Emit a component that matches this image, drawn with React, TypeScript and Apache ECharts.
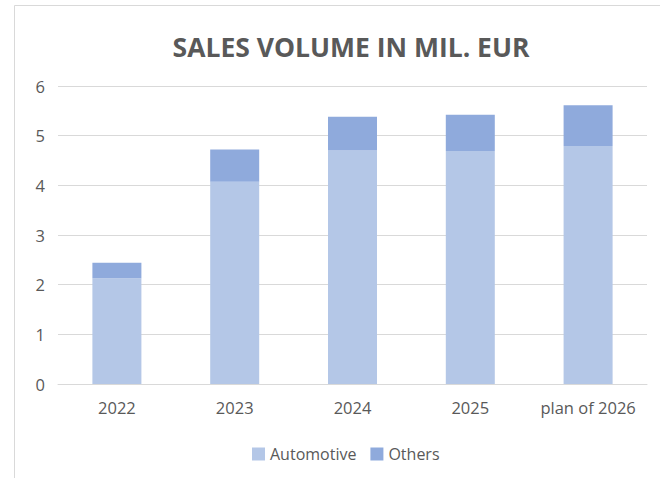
import React, { useEffect, useRef } from "react";
import * as echarts from "echarts";

const categories = ["2022", "2023", "2024", "2025", "plan of 2026"];
const automotive = [2.13, 4.07, 4.7, 4.69, 4.79];
const others = [0.31, 0.65, 0.68, 0.73, 0.82];
const yTicks = [0, 1, 2, 3, 4, 5, 6];

const FONT = "'Open Sans', 'Noto Sans', sans-serif";
const TXT = "#595959";

export default function App() {
  const ref = useRef<HTMLDivElement>(null);
  useEffect(() => {
    if (!ref.current) return;
    const chart = echarts.init(ref.current, null, { renderer: "svg" });
    chart.setOption({
      animation: false,
      backgroundColor: "#ffffff",
      title: {
        text: "SALES VOLUME IN MIL. EUR",
        left: 346,
        top: 28,
        textAlign: "center",
        textStyle: { fontFamily: FONT, fontSize: 26.5, fontWeight: "bold", color: TXT },
      },
      graphic: [
        {
          type: "rect",
          shape: { x: 14.5, y: 5.5, width: 700, height: 500 },
          style: { fill: "none", stroke: "#d9d9d9", lineWidth: 1 },
          silent: true,
        },
      ],
      grid: { left: 58, right: 13, top: 86, bottom: 94, containLabel: false },
      legend: {
        data: ["Automotive", "Others"],
        left: 247,
        top: 441,
        icon: "rect",
        itemWidth: 13,
        itemHeight: 13,
        itemGap: 14,
        textStyle: { fontFamily: FONT, fontSize: 16, color: TXT },
      },
      xAxis: {
        type: "category",
        data: categories,
        axisLine: { lineStyle: { color: "#d9d9d9", width: 1 } },
        axisTick: { show: false },
        axisLabel: { fontFamily: FONT, fontSize: 16.5, color: TXT, margin: 15, interval: 0 },
      },
      yAxis: {
        type: "value",
        min: yTicks[0],
        max: yTicks[yTicks.length - 1],
        interval: 1,
        axisLine: { show: false },
        axisTick: { show: false },
        splitLine: { lineStyle: { color: "#d9d9d9", width: 1 } },
        axisLabel: { fontFamily: FONT, fontSize: 16.5, color: TXT, margin: 13 },
      },
      series: [
        {
          name: "Automotive",
          type: "bar",
          stack: "total",
          data: automotive,
          barWidth: "41.6%",
          itemStyle: { color: "#b4c7e7" },
        },
        {
          name: "Others",
          type: "bar",
          stack: "total",
          data: others,
          barWidth: "41.6%",
          itemStyle: { color: "#8faadc" },
        },
      ],
    });
    return () => chart.dispose();
  }, []);
  return (
    <div
      ref={ref}
      style={{ position: "fixed", left: 0, top: 0, width: 660, height: 478 }}
    />
  );
}
